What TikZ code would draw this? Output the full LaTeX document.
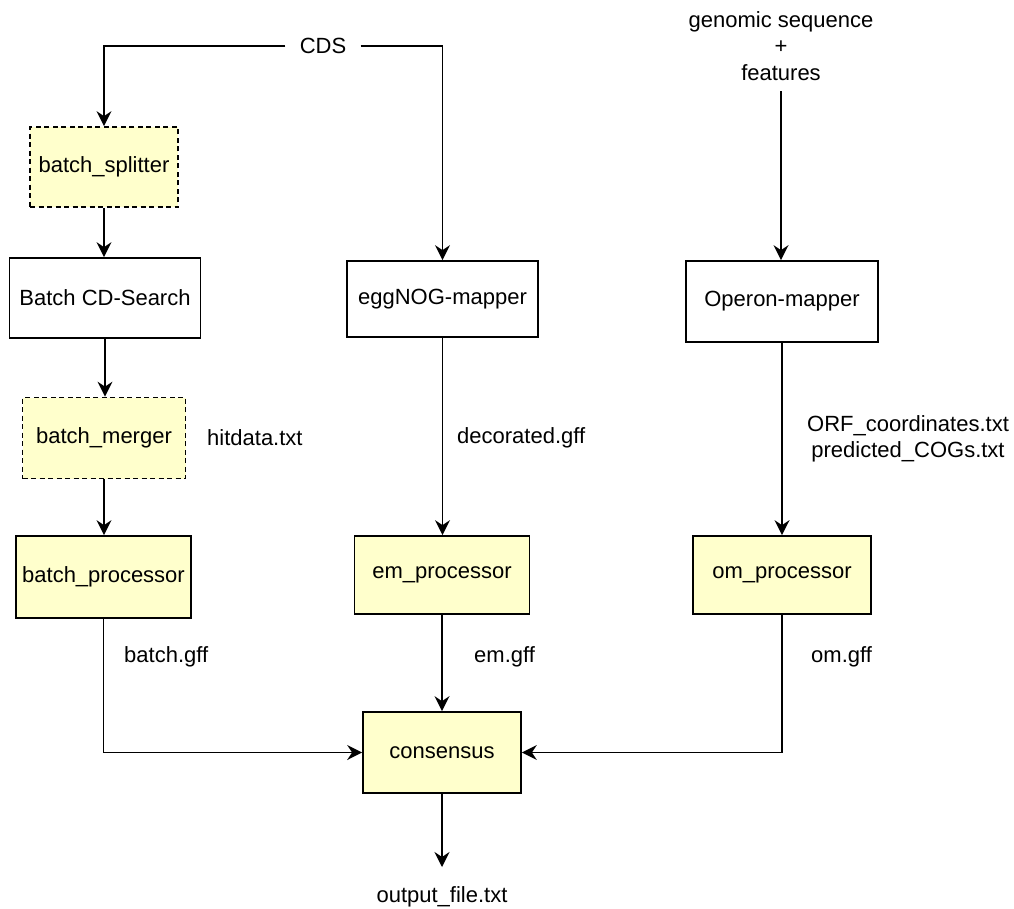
\documentclass[tikz,border=0pt]{standalone}
\usepackage{fontspec}
\setmainfont{Liberation Sans}
\usetikzlibrary{arrows.meta}
\definecolor{boxyellow}{HTML}{FFFFCC}
\tikzset{
  every node/.style={font=\fontsize{22}{26.4}\selectfont, inner sep=0pt},
  plainbox/.style={draw=black, line width=1.7pt, fill=white, minimum width=#1},
  ybox/.style={draw=black, line width=1.7pt, fill=boxyellow, minimum width=#1},
  dbox/.style={draw=black, line width=1.7pt, fill=boxyellow, minimum width=#1, dash pattern=on 5pt off 3.5pt},
  lbl/.style={anchor=west},
  arr/.style={line width=1.7pt, -{Stealth[length=15pt, width=15pt, inset=5pt]}}
}
\begin{document}
\begin{tikzpicture}[x=1pt, y=-1pt]
\useasboundingbox (0,0) rectangle (1014,908);
% texts
\node[minimum width=75pt] (cds) at (323,46) {CDS};
\node[align=center, minimum height=90pt] (gen) at (781,46) {genomic sequence\\+\\features};
% boxes
\node[dbox=148pt, minimum height=80pt] (bs) at (104,167) {batch\_splitter};
\node[plainbox=191pt, minimum height=80pt] (cd) at (105,298) {Batch CD-Search};
\node[dbox=163pt, minimum height=81pt] (bm) at (104,438) {batch\_merger};
\node[ybox=175pt, minimum height=82pt] (bp) at (103.5,577) {batch\_processor};
\node[plainbox=191pt, minimum height=76pt] (egg) at (442.5,299) {eggNOG-mapper};
\node[ybox=175pt, minimum height=78pt] (em) at (442,575) {em\_processor};
\node[ybox=158pt, minimum height=81pt] (cons) at (442,752.5) {consensus};
\node[plainbox=192pt, minimum height=81pt] (op) at (782,301.5) {Operon-mapper};
\node[ybox=178pt, minimum height=78pt] (om) at (782,575) {om\_processor};
% labels
\node[lbl] (hit) at (207,438) {hitdata.txt};
\node[lbl] (dec) at (457,438) {decorated.gff};
\node[align=center] (orf) at (908,439) {ORF\_coordinates.txt\\predicted\_COGs.txt};
\node[lbl] (bgff) at (124,657) {batch.gff};
\node[lbl] (emgff) at (474,657) {em.gff};
\node[lbl] (omgff) at (811,657) {om.gff};
\node (out) at (442,897) {output\_file.txt};
\coordinate (outend) at (442,867);
% connectors
\draw[arr] (cds.west) -| (bs.north);
\draw[arr] (cds.east) -| (egg.north);
\draw[arr] (bs.south) -- (bs.south |- cd.north);
\draw[arr] (cd.south) -- (cd.south |- bm.north);
\draw[arr] (bm.south) -- (bm.south |- bp.north);
\draw[arr] (bp.south) |- (cons.west);
\draw[arr] (egg.south) -- (egg.south |- em.north);
\draw[arr] (em.south) -- (em.south |- cons.north);
\draw[arr] (gen.south) -- (gen.south |- op.north);
\draw[arr] (op.south) -- (op.south |- om.north);
\draw[arr] (om.south) |- (cons.east);
\draw[arr] (cons.south) -- (outend);
\end{tikzpicture}
\end{document}
